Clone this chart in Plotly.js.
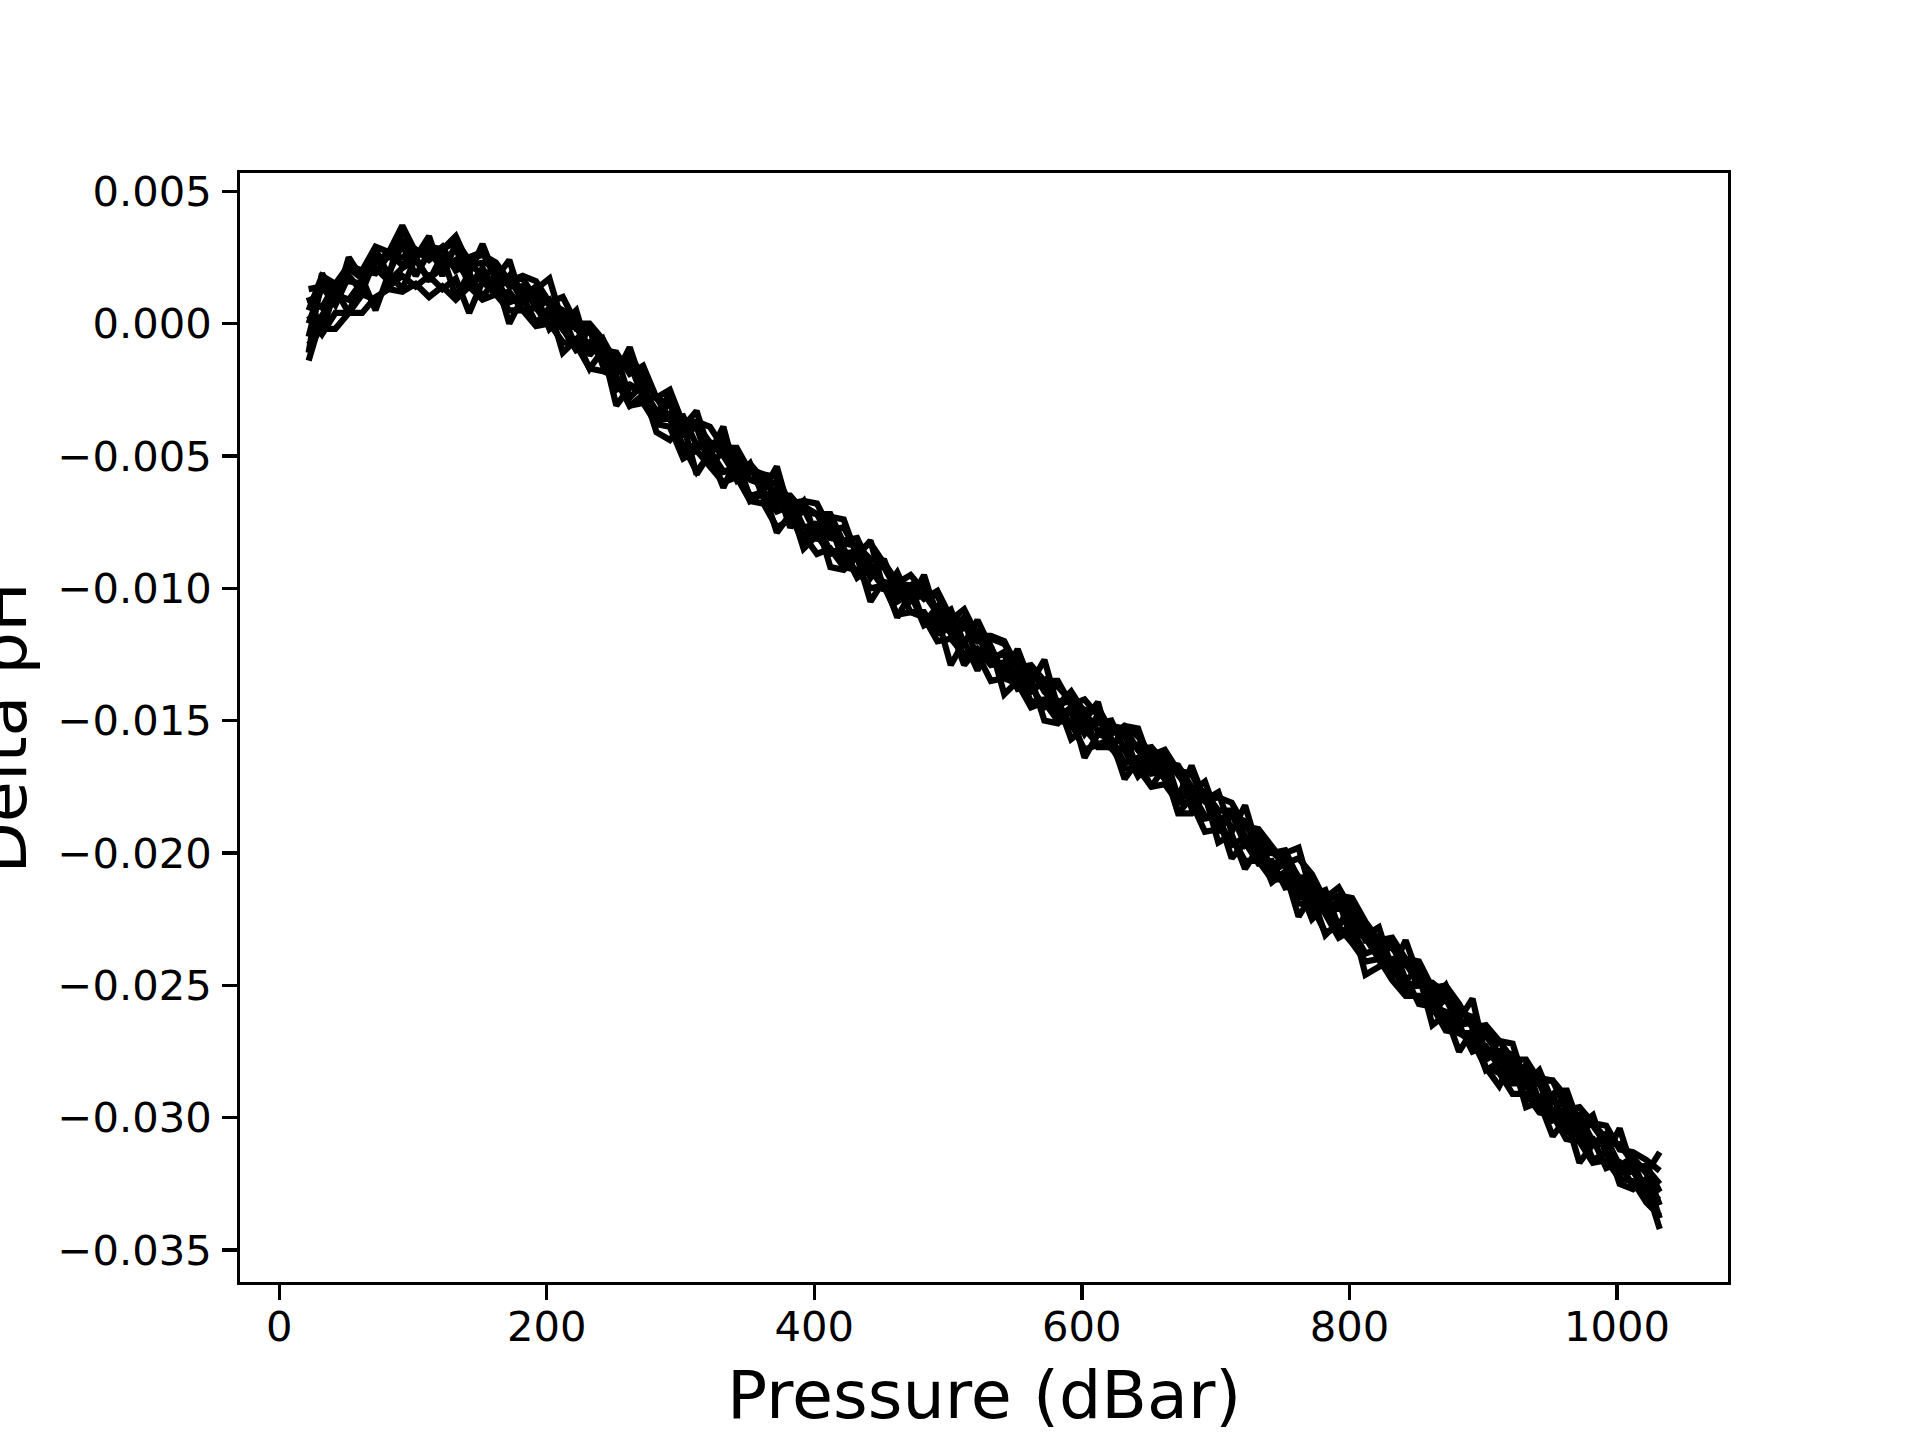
<!DOCTYPE html>
<html>
<head>
<meta charset="utf-8">
<script src="https://cdn.plot.ly/plotly-3.0.1.min.js"></script>
<style>html,body{margin:0;padding:0;background:#fff;}#chart{width:1920px;height:1440px;}</style>
</head>
<body>
<div id="chart"></div>
<script>
const pressure = [22,32,42,52,62,72,82,92,102,112,122,132,142,152,162,172,182,192,202,212,222,232,242,252,262,272,282,292,302,312,322,332,342,352,362,372,382,392,402,412,422,432,442,452,462,472,482,492,502,512,522,532,542,552,562,572,582,592,602,612,622,632,642,652,662,672,682,692,702,712,722,732,742,752,762,772,782,792,802,812,822,832,842,852,862,872,882,892,902,912,922,932,942,952,962,972,982,992,1002,1012,1022,1032];

const profileA = [0.0013,0.0014,0.0011,0.0020,0.0020,0.0019,0.0026,0.0031,0.0025,0.0029,0.0025,0.0021,0.0025,0.0027,0.0017,0.0017,0.0010,0.0014,0.0007,-0.0002,0.0001,-0.0002,-0.0016,-0.0013,-0.0014,-0.0025,-0.0033,-0.0030,-0.0037,-0.0039,-0.0049,-0.0043,-0.0051,-0.0059,-0.0061,-0.0060,-0.0073,-0.0069,-0.0072,-0.0081,-0.0082,-0.0081,-0.0092,-0.0092,-0.0101,-0.0099,-0.0098,-0.0109,-0.0115,-0.0111,-0.0118,-0.0127,-0.0124,-0.0129,-0.0130,-0.0139,-0.0144,-0.0139,-0.0147,-0.0154,-0.0152,-0.0153,-0.0161,-0.0168,-0.0164,-0.0171,-0.0177,-0.0173,-0.0187,-0.0186,-0.0188,-0.0199,-0.0200,-0.0199,-0.0210,-0.0218,-0.0215,-0.0217,-0.0226,-0.0228,-0.0236,-0.0233,-0.0242,-0.0250,-0.0249,-0.0253,-0.0265,-0.0264,-0.0266,-0.0277,-0.0279,-0.0287,-0.0282,-0.0294,-0.0295,-0.0305,-0.0302,-0.0308,-0.0318,-0.0315,-0.0321,-0.0313];
const profileB = [-0.0014,0.0003,0.0011,0.0009,0.0016,0.0021,0.0016,0.0021,0.0024,0.0017,0.0021,0.0024,0.0016,0.0017,0.0017,0.0008,0.0010,0.0000,0.0003,-0.0002,-0.0010,-0.0007,-0.0014,-0.0025,-0.0023,-0.0026,-0.0036,-0.0034,-0.0047,-0.0046,-0.0048,-0.0056,-0.0054,-0.0067,-0.0064,-0.0070,-0.0070,-0.0080,-0.0076,-0.0086,-0.0086,-0.0096,-0.0092,-0.0098,-0.0105,-0.0102,-0.0113,-0.0114,-0.0114,-0.0126,-0.0123,-0.0125,-0.0133,-0.0131,-0.0143,-0.0142,-0.0143,-0.0152,-0.0149,-0.0160,-0.0160,-0.0161,-0.0171,-0.0166,-0.0172,-0.0180,-0.0177,-0.0186,-0.0187,-0.0197,-0.0194,-0.0197,-0.0208,-0.0209,-0.0217,-0.0214,-0.0223,-0.0232,-0.0229,-0.0232,-0.0240,-0.0240,-0.0251,-0.0250,-0.0252,-0.0264,-0.0265,-0.0275,-0.0273,-0.0281,-0.0281,-0.0293,-0.0292,-0.0301,-0.0299,-0.0308,-0.0308,-0.0319,-0.0317,-0.0326,-0.0326,-0.0342];
const profileC = [0.0005,0.0018,0.0015,0.0022,0.0020,0.0029,0.0027,0.0037,0.0027,0.0029,0.0028,0.0031,0.0024,0.0026,0.0023,0.0016,0.0018,0.0016,0.0008,0.0010,0.0000,0.0000,-0.0006,-0.0015,-0.0012,-0.0020,-0.0028,-0.0025,-0.0038,-0.0037,-0.0039,-0.0047,-0.0047,-0.0056,-0.0057,-0.0058,-0.0068,-0.0067,-0.0068,-0.0078,-0.0077,-0.0086,-0.0083,-0.0091,-0.0098,-0.0095,-0.0101,-0.0103,-0.0112,-0.0108,-0.0118,-0.0118,-0.0120,-0.0130,-0.0129,-0.0135,-0.0135,-0.0144,-0.0142,-0.0148,-0.0155,-0.0152,-0.0156,-0.0163,-0.0161,-0.0169,-0.0170,-0.0180,-0.0179,-0.0181,-0.0190,-0.0191,-0.0198,-0.0204,-0.0202,-0.0208,-0.0218,-0.0216,-0.0217,-0.0226,-0.0233,-0.0232,-0.0240,-0.0241,-0.0251,-0.0250,-0.0257,-0.0266,-0.0265,-0.0271,-0.0278,-0.0278,-0.0286,-0.0286,-0.0297,-0.0296,-0.0302,-0.0303,-0.0312,-0.0313,-0.0316,-0.0320];
const profileD = [-0.0008,-0.0002,-0.0002,0.0004,0.0004,0.0010,0.0013,0.0012,0.0015,0.0010,0.0014,0.0009,0.0014,0.0009,0.0011,0.0005,0.0005,-0.0001,0.0000,-0.0007,-0.0008,-0.0017,-0.0018,-0.0020,-0.0031,-0.0030,-0.0038,-0.0039,-0.0051,-0.0048,-0.0054,-0.0060,-0.0058,-0.0067,-0.0068,-0.0077,-0.0074,-0.0080,-0.0087,-0.0085,-0.0092,-0.0093,-0.0100,-0.0099,-0.0110,-0.0109,-0.0111,-0.0120,-0.0119,-0.0125,-0.0125,-0.0135,-0.0134,-0.0136,-0.0145,-0.0143,-0.0150,-0.0151,-0.0161,-0.0159,-0.0160,-0.0168,-0.0168,-0.0175,-0.0174,-0.0181,-0.0181,-0.0192,-0.0191,-0.0194,-0.0203,-0.0203,-0.0210,-0.0210,-0.0219,-0.0220,-0.0230,-0.0228,-0.0234,-0.0241,-0.0240,-0.0248,-0.0254,-0.0254,-0.0258,-0.0267,-0.0268,-0.0271,-0.0281,-0.0283,-0.0291,-0.0291,-0.0298,-0.0299,-0.0308,-0.0309,-0.0317,-0.0316,-0.0323,-0.0324,-0.0332,-0.0337];
const profileE = [0.0000,0.0014,0.0007,0.0018,0.0012,0.0025,0.0019,0.0030,0.0018,0.0027,0.0021,0.0029,0.0014,0.0021,0.0012,0.0018,0.0008,0.0011,-0.0002,0.0003,-0.0009,-0.0002,-0.0015,-0.0012,-0.0028,-0.0023,-0.0035,-0.0030,-0.0042,-0.0039,-0.0054,-0.0048,-0.0059,-0.0053,-0.0066,-0.0062,-0.0077,-0.0070,-0.0080,-0.0076,-0.0090,-0.0086,-0.0096,-0.0089,-0.0103,-0.0099,-0.0113,-0.0107,-0.0117,-0.0112,-0.0127,-0.0122,-0.0133,-0.0125,-0.0139,-0.0135,-0.0149,-0.0145,-0.0155,-0.0148,-0.0160,-0.0155,-0.0169,-0.0162,-0.0172,-0.0168,-0.0183,-0.0179,-0.0192,-0.0185,-0.0197,-0.0193,-0.0207,-0.0204,-0.0217,-0.0210,-0.0222,-0.0218,-0.0233,-0.0229,-0.0240,-0.0234,-0.0248,-0.0244,-0.0260,-0.0255,-0.0265,-0.0262,-0.0278,-0.0275,-0.0286,-0.0280,-0.0294,-0.0291,-0.0306,-0.0300,-0.0310,-0.0306,-0.0321,-0.0317,-0.0328,-0.0327];
const profileF = [0.0009,0.0006,0.0015,0.0016,0.0015,0.0023,0.0027,0.0022,0.0027,0.0025,0.0029,0.0020,0.0023,0.0018,0.0021,0.0014,0.0014,0.0006,0.0009,-0.0002,-0.0001,-0.0011,-0.0009,-0.0016,-0.0015,-0.0028,-0.0028,-0.0036,-0.0035,-0.0046,-0.0045,-0.0050,-0.0058,-0.0055,-0.0057,-0.0068,-0.0066,-0.0077,-0.0076,-0.0077,-0.0087,-0.0086,-0.0091,-0.0099,-0.0096,-0.0105,-0.0102,-0.0109,-0.0117,-0.0115,-0.0116,-0.0126,-0.0125,-0.0135,-0.0133,-0.0135,-0.0143,-0.0143,-0.0153,-0.0151,-0.0150,-0.0161,-0.0159,-0.0169,-0.0167,-0.0168,-0.0178,-0.0178,-0.0188,-0.0185,-0.0193,-0.0202,-0.0199,-0.0205,-0.0212,-0.0210,-0.0222,-0.0221,-0.0222,-0.0233,-0.0232,-0.0244,-0.0242,-0.0247,-0.0256,-0.0254,-0.0264,-0.0264,-0.0276,-0.0275,-0.0276,-0.0288,-0.0287,-0.0298,-0.0297,-0.0299,-0.0309,-0.0308,-0.0319,-0.0318,-0.0320,-0.0333];
const profileG = [0.0003,-0.0004,0.0004,0.0004,0.0011,0.0009,0.0014,0.0018,0.0014,0.0018,0.0013,0.0017,0.0004,0.0016,0.0011,0.0012,0.0005,0.0006,-0.0001,0.0000,-0.0010,-0.0009,-0.0012,-0.0022,-0.0031,-0.0027,-0.0036,-0.0036,-0.0046,-0.0056,-0.0049,-0.0056,-0.0055,-0.0065,-0.0064,-0.0071,-0.0069,-0.0085,-0.0080,-0.0087,-0.0085,-0.0095,-0.0093,-0.0100,-0.0099,-0.0109,-0.0109,-0.0117,-0.0115,-0.0129,-0.0123,-0.0129,-0.0128,-0.0138,-0.0137,-0.0145,-0.0143,-0.0157,-0.0153,-0.0159,-0.0157,-0.0166,-0.0164,-0.0170,-0.0169,-0.0185,-0.0179,-0.0187,-0.0186,-0.0202,-0.0196,-0.0204,-0.0203,-0.0213,-0.0212,-0.0225,-0.0220,-0.0229,-0.0229,-0.0238,-0.0236,-0.0246,-0.0247,-0.0257,-0.0258,-0.0260,-0.0268,-0.0268,-0.0282,-0.0279,-0.0287,-0.0287,-0.0297,-0.0297,-0.0305,-0.0303,-0.0316,-0.0313,-0.0321,-0.0320,-0.0329,-0.0331];
const profileH = [-0.0005,0.0015,0.0013,0.0021,0.0017,0.0025,0.0025,0.0025,0.0028,0.0024,0.0028,0.0033,0.0022,0.0023,0.0022,0.0016,0.0017,0.0009,0.0008,0.0005,-0.0002,-0.0002,-0.0010,-0.0011,-0.0019,-0.0016,-0.0028,-0.0031,-0.0038,-0.0038,-0.0045,-0.0046,-0.0054,-0.0053,-0.0059,-0.0065,-0.0065,-0.0071,-0.0072,-0.0072,-0.0083,-0.0084,-0.0089,-0.0090,-0.0098,-0.0099,-0.0104,-0.0101,-0.0111,-0.0113,-0.0120,-0.0119,-0.0121,-0.0129,-0.0131,-0.0138,-0.0137,-0.0143,-0.0146,-0.0145,-0.0154,-0.0155,-0.0161,-0.0160,-0.0166,-0.0167,-0.0175,-0.0177,-0.0184,-0.0184,-0.0190,-0.0194,-0.0200,-0.0201,-0.0209,-0.0210,-0.0217,-0.0213,-0.0222,-0.0228,-0.0234,-0.0236,-0.0242,-0.0243,-0.0252,-0.0254,-0.0260,-0.0262,-0.0269,-0.0276,-0.0277,-0.0284,-0.0285,-0.0286,-0.0292,-0.0301,-0.0303,-0.0310,-0.0310,-0.0317,-0.0319,-0.0325];
const profileI = [-0.0011,0.0019,0.0008,0.0025,0.0017,0.0028,0.0018,0.0036,0.0025,0.0033,0.0018,0.0030,0.0019,0.0030,0.0017,0.0024,0.0008,0.0013,0.0017,0.0000,0.0005,-0.0012,-0.0006,-0.0019,-0.0009,-0.0024,-0.0036,-0.0026,-0.0039,-0.0033,-0.0049,-0.0039,-0.0058,-0.0053,-0.0063,-0.0054,-0.0072,-0.0067,-0.0082,-0.0073,-0.0074,-0.0088,-0.0082,-0.0101,-0.0094,-0.0105,-0.0095,-0.0111,-0.0108,-0.0121,-0.0112,-0.0123,-0.0133,-0.0123,-0.0136,-0.0127,-0.0145,-0.0141,-0.0150,-0.0143,-0.0161,-0.0152,-0.0153,-0.0167,-0.0163,-0.0179,-0.0167,-0.0180,-0.0177,-0.0192,-0.0182,-0.0199,-0.0206,-0.0200,-0.0198,-0.0216,-0.0214,-0.0228,-0.0218,-0.0231,-0.0228,-0.0244,-0.0233,-0.0247,-0.0256,-0.0250,-0.0263,-0.0255,-0.0277,-0.0271,-0.0272,-0.0288,-0.0285,-0.0301,-0.0289,-0.0303,-0.0299,-0.0314,-0.0304,-0.0320,-0.0318,-0.0328];
const profileJ = [0.0010,-0.0003,0.0013,0.0004,0.0017,0.0005,0.0019,0.0013,0.0025,0.0016,0.0026,0.0010,0.0019,0.0010,0.0017,0.0000,0.0010,0.0000,0.0006,-0.0011,-0.0006,-0.0017,-0.0010,-0.0031,-0.0024,-0.0025,-0.0041,-0.0044,-0.0038,-0.0057,-0.0049,-0.0062,-0.0051,-0.0066,-0.0063,-0.0079,-0.0072,-0.0083,-0.0075,-0.0092,-0.0093,-0.0088,-0.0105,-0.0097,-0.0111,-0.0102,-0.0114,-0.0111,-0.0129,-0.0120,-0.0131,-0.0122,-0.0140,-0.0135,-0.0134,-0.0150,-0.0151,-0.0146,-0.0164,-0.0155,-0.0157,-0.0172,-0.0165,-0.0175,-0.0167,-0.0185,-0.0185,-0.0178,-0.0196,-0.0193,-0.0206,-0.0198,-0.0211,-0.0207,-0.0224,-0.0216,-0.0231,-0.0226,-0.0226,-0.0246,-0.0243,-0.0241,-0.0254,-0.0246,-0.0265,-0.0261,-0.0275,-0.0267,-0.0281,-0.0288,-0.0278,-0.0296,-0.0294,-0.0307,-0.0300,-0.0317,-0.0310,-0.0310,-0.0325,-0.0327,-0.0323,-0.0338];

const xTickVals = [0,200,400,600,800,1000];
const xTickText = ["0","200","400","600","800","1000"];
const yTickVals = [0.005,0,-0.005,-0.010,-0.015,-0.020,-0.025,-0.030,-0.035];
const yTickText = ["0.005","0.000","\u22120.005","\u22120.010","\u22120.015","\u22120.020","\u22120.025","\u22120.030","\u22120.035"];
const xLabel = "Pressure (dBar)";
const yLabel = "Delta pH";

const profiles = [profileA,profileB,profileC,profileD,profileE,profileF,profileG,profileH,profileI,profileJ];
const traces = profiles.map(p => ({
  x: pressure, y: p, type: 'scatter', mode: 'lines',
  line: {color: '#000000', width: 6.25},
  hoverinfo: 'skip'
}));

const FONT = 'DejaVu Sans, Verdana, sans-serif';
const axisCommon = {
  ticks: 'outside', ticklen: 14.6, tickwidth: 3.3, tickcolor: '#000',
  showline: true, linewidth: 3.3, linecolor: '#000', mirror: true,
  showgrid: false, zeroline: false,
  tickfont: {family: FONT, size: 41.7, color: '#000'},
  tickmode: 'array', automargin: false
};

const layout = {
  width: 1920, height: 1440,
  margin: {l: 240, r: 192, t: 172.8, b: 158.4, pad: 0},
  paper_bgcolor: '#ffffff', plot_bgcolor: '#ffffff',
  showlegend: false,
  xaxis: Object.assign({}, axisCommon, {range: [-29.3, 1083.0], tickvals: xTickVals, ticktext: xTickText, ticklabelstandoff: -9}),
  yaxis: Object.assign({}, axisCommon, {range: [-0.036204, 0.005686], tickvals: yTickVals, ticktext: yTickText, ticklabelstandoff: 2}),
  annotations: [
    {text: xLabel, xref: 'paper', yref: 'paper', x: 0.5, y: 0, xanchor: 'center', yanchor: 'top',
     yshift: -72, showarrow: false, font: {family: FONT, size: 66.7, color: '#000'}},
    {text: yLabel, xref: 'paper', yref: 'paper', x: 0, y: 0.5, xanchor: 'center', yanchor: 'middle',
     xshift: -238, textangle: -90, showarrow: false, font: {family: FONT, size: 66.7, color: '#000'}}
  ]
};

Plotly.newPlot('chart', traces, layout, {staticPlot: true, displayModeBar: false});
</script>
</body>
</html>
